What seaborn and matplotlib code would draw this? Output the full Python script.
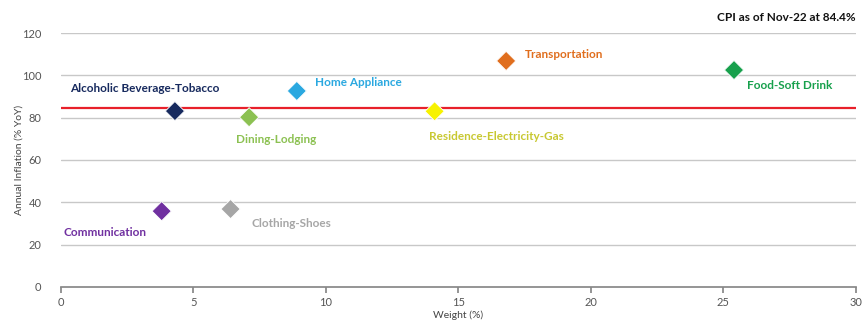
import matplotlib
matplotlib.use("Agg")
import matplotlib.pyplot as plt
import seaborn as sns
import pandas as pd

categories = ["Alcoholic Beverage-Tobacco", "Dining-Lodging", "Home Appliance",
              "Residence-Electricity-Gas", "Transportation", "Food-Soft Drink",
              "Communication", "Clothing-Shoes"]
weights = [4.3, 7.1, 8.9, 14.1, 16.8, 25.4, 3.8, 6.4]
inflation = [83.1, 80.2, 92.6, 83.0, 106.8, 102.5, 35.8, 36.8]
marker_colors = ["#172a5e", "#8cc152", "#2aa8e0", "#f7f200", "#e06e1e", "#17a04c", "#7030a0", "#a6a6a6"]
label_colors = ["#172a5e", "#8cc152", "#2aa8e0", "#c8c832", "#e06e1e", "#17a04c", "#7030a0", "#a6a6a6"]
label_pos = [(0.35, 94), (6.6, 69.5), (9.6, 96.5), (13.9, 71), (17.5, 109.8), (25.9, 95), (0.1, 25.8), (7.2, 30.2)]
cpi_value = 84.4
x_ticks = [0, 5, 10, 15, 20, 25, 30]
y_ticks = [0, 20, 40, 60, 80, 100, 120]

df = pd.DataFrame({"Category": categories, "Weight": weights, "Inflation": inflation})

sns.set_theme(style="white")
plt.rcParams["font.family"] = ["Lato", "DejaVu Sans"]

fig = plt.figure(figsize=(8.65, 3.22), dpi=100)
ax = fig.add_axes([0.0705, 0.109, 0.919, 0.7885])

for t in y_ticks[1:]:
    ax.axhline(t, color="#c8c8c8", lw=1.0, zorder=0)
ax.axhline(cpi_value, color="#e8202a", lw=1.6, zorder=1)

sns.scatterplot(data=df, x="Weight", y="Inflation", hue="Category",
                palette=marker_colors, marker="D", s=95, edgecolor="white",
                linewidth=0.6, legend=False, ax=ax, zorder=3)

for cat, (lx, ly), c in zip(categories, label_pos, label_colors):
    ax.text(lx, ly, cat, color=c, fontsize=8.5, fontweight="bold", va="center", ha="left")

ax.set_xlim(0, 30)
ax.set_ylim(0, 120)
ax.set_xticks(x_ticks)
ax.set_yticks(y_ticks)
for s in ["top", "right", "left"]:
    ax.spines[s].set_visible(False)
ax.spines["bottom"].set_color("#888888")
ax.tick_params(axis="x", bottom=True, length=4, color="#888888", labelsize=8, labelcolor="#555555", pad=3)
ax.tick_params(axis="y", left=False, labelsize=8, labelcolor="#555555", pad=8)
ax.set_xlabel("Weight (%)", fontsize=7.5, color="#444444", labelpad=2)
ax.set_ylabel("Annual Inflation (% YoY)", fontsize=7.5, color="#444444")
ax.yaxis.set_label_coords(-0.047, 0.5)

fig.text(0.9896, 0.947, "CPI as of Nov-22 at 84.4%", ha="right", va="center",
         fontsize=8.5, fontweight="bold", color="#111111")

fig.savefig("out.png", dpi=100)
